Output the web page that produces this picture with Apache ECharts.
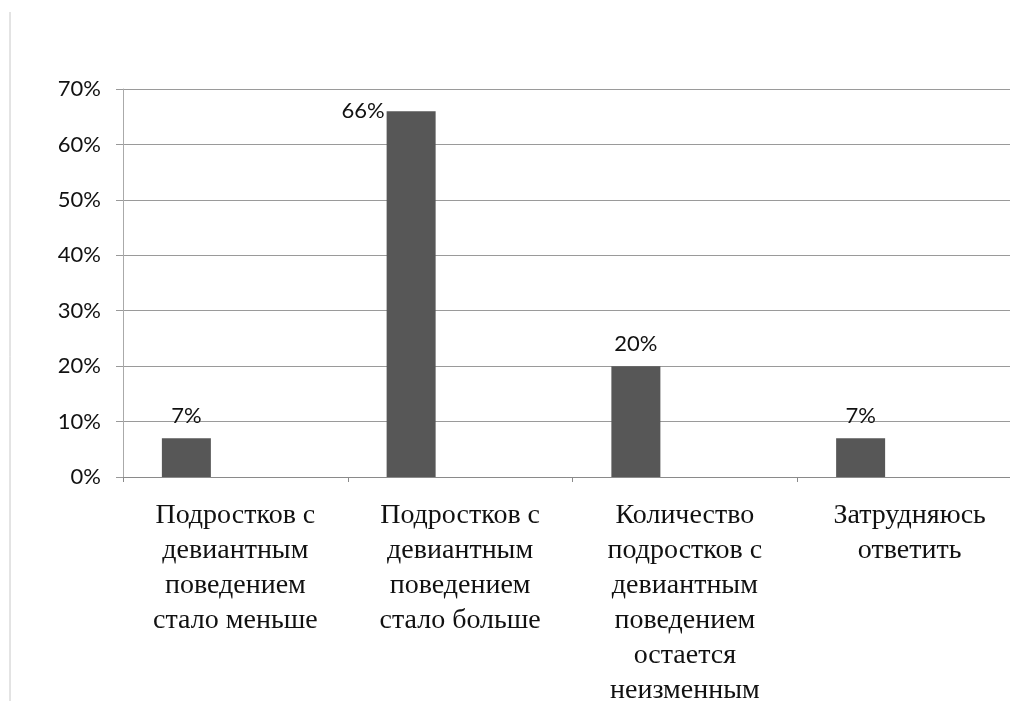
<!DOCTYPE html>
<html><head><meta charset="utf-8">
<script src="https://cdn.jsdelivr.net/npm/echarts@6/dist/echarts.min.js"></script>
<style>html,body{margin:0;padding:0;background:#fff}#c{width:1010px;height:701px}</style>
</head><body><div id="c"></div>
<script>
const categories = [
  "Подростков с\nдевиантным\nповедением\nстало меньше",
  "Подростков с\nдевиантным\nповедением\nстало больше",
  "Количество\nподростков с\nдевиантным\nповедением\nостается\nнеизменным",
  "Затрудняюсь\nответить"
];
const values = [7, 66, 20, 7];
const yTicks = [0, 10, 20, 30, 40, 50, 60, 70];

const chart = echarts.init(document.getElementById('c'));
const mainData = values.map((v, i) => {
  if (v > 60) {
    return { value: v, label: { position: [-2, 0], align: 'right', verticalAlign: 'middle' } };
  }
  return v;
});
chart.setOption({
  animation: false,
  backgroundColor: '#fff',
  grid: { left: 123, right: -12, top: 89, bottom: 224, containLabel: false, outerBoundsMode: 'none' },
  xAxis: {
    type: 'category',
    data: categories,
    axisLine: { lineStyle: { color: '#8a8a8a', width: 1 } },
    axisTick: { show: true, length: 5, lineStyle: { color: '#8a8a8a' } },
    axisLabel: {
      interval: 0, margin: 21,
      fontFamily: 'Liberation Serif', fontSize: 28, lineHeight: 35, color: '#111'
    }
  },
  yAxis: {
    type: 'value', min: yTicks[0], max: yTicks[yTicks.length - 1], interval: 10,
    axisLine: { show: true, lineStyle: { color: '#aaa' } },
    axisTick: { show: true, length: 7, lineStyle: { color: '#999' } },
    splitLine: { lineStyle: { color: '#9a9a9a', width: 1 } },
    axisLabel: { formatter: '{value}%', fontFamily: 'Lato', fontSize: 22, color: '#111', margin: 22 }
  },
  series: [
    {
      type: 'bar', data: mainData, barWidth: 49, barGap: '0%',
      itemStyle: { color: '#575757' },
      label: { show: true, position: 'top', distance: 11, formatter: '{c}%', fontFamily: 'Lato', fontSize: 22, color: '#111' }
    },
    { type: 'bar', data: values.map(() => null), barWidth: 49, barGap: '0%' },
    { type: 'bar', data: values.map(() => null), barWidth: 49, barGap: '0%' }
  ],
  graphic: [
    { type: 'line', shape: { x1: 10, y1: 12, x2: 10, y2: 701 }, style: { stroke: '#c8c8c8', lineWidth: 1 } }
  ]
});
</script></body></html>
